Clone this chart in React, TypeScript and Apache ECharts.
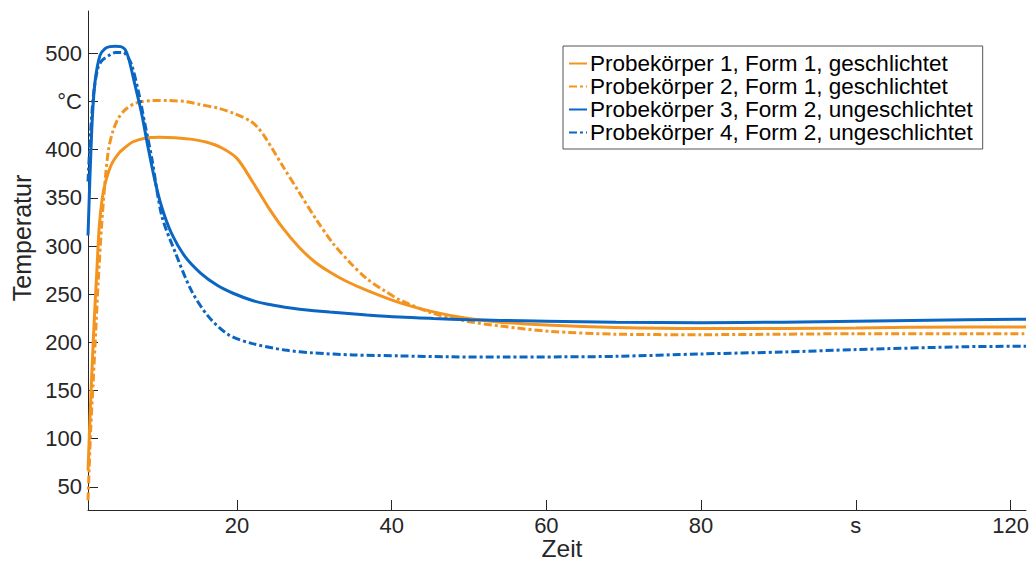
import React, { useEffect, useRef } from "react";
import * as echarts from "echarts";

const FONT = '"Liberation Sans", Arial, Helvetica, sans-serif';
const ORANGE = "#F39420";
const BLUE = "#0A66C2";
const AXIS = "#262626";

const seriesNames = [
  "Probekörper 1, Form 1, geschlichtet",
  "Probekörper 2, Form 1, geschlichtet",
  "Probekörper 3, Form 2, ungeschlichtet",
  "Probekörper 4, Form 2, ungeschlichtet",
];

// Probekörper 1 (orange, solid)
const p1Time = [0.75, 1.2, 1.6, 1.9, 2.2, 2.6, 3.0, 3.8, 4.8, 5.5, 6.5, 8.1, 10, 12, 14, 16, 18, 20, 22, 24, 26, 28, 30, 32, 34, 36.8, 41.1, 45.4, 49.7, 54, 60, 69, 80, 90.6, 100, 114.3, 122];
const p1Temp = [67, 160, 230, 275, 320, 350, 366, 385, 397, 402, 408, 412, 413, 412.5, 411, 408, 402, 391, 367, 341, 318, 299, 284, 273, 264, 254, 241, 231.7, 225, 221, 218, 215.5, 214.5, 214.5, 215, 216, 216];

// Probekörper 2 (orange, dash-dot)
const p2Time = [0.75, 1.1, 1.43, 1.8, 2.08, 2.5, 2.9, 3.4, 4.0, 4.7, 5.5, 6.8, 9, 11, 13.4, 15.2, 17.6, 19.5, 21.7, 22.7, 23.8, 26, 28.1, 30.3, 32.4, 34.6, 36.8, 39, 41.1, 45.4, 49.7, 54, 60.4, 69, 80, 90.6, 100, 114.3, 122];
const p2Temp = [36, 110, 161, 220, 265, 320, 362, 400, 420, 433, 441, 448, 451, 451, 450, 447, 443, 438, 430, 423, 411, 382, 355, 327, 303, 283, 266, 254, 244, 230, 222, 217, 211.5, 208.5, 208, 208.5, 209, 209, 209];

// Probekörper 3 (blue, solid)
const p3Time = [0.75, 1.23, 1.65, 2.3, 2.95, 3.6, 4.25, 5.0, 5.55, 6.0, 6.8, 7.7, 8.5, 9.4, 10.3, 11.5, 13.3, 15.3, 17.5, 19.5, 22, 24, 26.2, 28.1, 32, 36.8, 41, 45.4, 50, 54, 60, 69, 80, 90.6, 100, 114.3, 122];
const p3Temp = [311, 420, 470, 498, 505, 507, 507.5, 507, 504, 495, 468, 437, 403, 368, 340, 314, 289, 272, 259, 251, 243.5, 239.5, 236.5, 234.5, 231.5, 228.5, 226.3, 224.8, 223.5, 222.8, 222, 220.8, 220.5, 221, 222, 223.5, 224];

// Probekörper 4 (blue, dash-dot)
const p4Time = [0.75, 1.1, 1.5, 2.0, 2.5, 3.5, 4.3, 5.3, 5.9, 6.4, 7.25, 8.1, 9.0, 10.3, 12, 14.1, 16.3, 18.9, 21.9, 26.2, 30, 35, 41, 47.5, 55, 62, 69, 80, 90.6, 100, 114.3, 122];
const p4Temp = [367, 420, 460, 484, 492, 498, 501, 501, 496, 488, 461, 427, 391, 331, 294, 254, 227, 208, 199, 192, 189, 187, 186, 185, 184.8, 185, 185.5, 188, 190, 192.5, 195.5, 196];

const xTickValues = [20, 40, 60, 80, 100, 120];
const xTickLabels = ["20", "40", "60", "80", "s", "120"];
const yTickValues = [50, 100, 150, 200, 250, 300, 350, 400, 450, 500];
const yTickLabels = ["50", "100", "150", "200", "250", "300", "350", "400", "°C", "500"];

const X_MIN = 0.75;
const X_MAX = 122;
const Y_MIN = 26;
const Y_MAX = 544;

const zip = (t: number[], v: number[]) => t.map((x, i) => [x, v[i]]);

const DASHDOT = [8, 3, 3, 3];

export default function App() {
  const ref = useRef<HTMLDivElement>(null);
  useEffect(() => {
    if (!ref.current) return;
    const chart = echarts.init(ref.current, undefined, { renderer: "svg" });
    const mk = (name: string, data: number[][], color: string, dash: any) => ({
      name,
      type: "line",
      data,
      showSymbol: false,
      symbol: "none",
      smooth: 0.3,
      clip: true,
      lineStyle: { color, width: 3, type: dash },
      itemStyle: { color },
    });
    chart.setOption({
      animation: false,
      backgroundColor: "#ffffff",
      textStyle: { fontFamily: FONT },
      grid: {
        left: 88,
        right: 7,
        top: 11,
        bottom: 51,
        containLabel: false,
        outerBoundsMode: "none",
      },
      legend: {
        orient: "vertical",
        left: 563,
        top: 46,
        padding: [6, 10, 5, 5],
        itemGap: 0,
        itemWidth: 18,
        itemHeight: 14,
        borderColor: "#555555",
        borderWidth: 1,
        backgroundColor: "#ffffff",
        itemStyle: { opacity: 0 },
        textStyle: { fontFamily: FONT, fontSize: 22.5, color: "#000000", lineHeight: 20, padding: [0, 0, 0, -2] },
        data: seriesNames,
      },
      xAxis: {
        type: "value",
        min: X_MIN,
        max: X_MAX,
        splitLine: { show: false },
        axisLine: { show: true, lineStyle: { color: AXIS, width: 1 } },
        axisTick: {
          show: true,
          inside: true,
          length: 10,
          customValues: xTickValues,
          lineStyle: { color: AXIS },
        },
        axisLabel: {
          customValues: xTickValues,
          margin: 4,
          fontSize: 22,
          color: AXIS,
          fontFamily: FONT,
          formatter: (v: number) => {
            const i = xTickValues.indexOf(Math.round(v));
            return i >= 0 ? xTickLabels[i] : "";
          },
        },
      },
      yAxis: {
        type: "value",
        min: Y_MIN,
        max: Y_MAX,
        splitLine: { show: false },
        axisLine: { show: true, lineStyle: { color: AXIS, width: 1 } },
        axisTick: {
          show: true,
          inside: true,
          length: 10,
          customValues: yTickValues,
          lineStyle: { color: AXIS },
        },
        axisLabel: {
          customValues: yTickValues,
          margin: 6,
          fontSize: 22,
          color: AXIS,
          fontFamily: FONT,
          formatter: (v: number) => {
            const i = yTickValues.indexOf(Math.round(v));
            return i >= 0 ? yTickLabels[i] : "";
          },
        },
      },
      graphic: [
        {
          type: "text",
          x: 22,
          y: 238,
          rotation: Math.PI / 2,
          style: {
            text: "Temperatur",
            fontSize: 25,
            fontFamily: FONT,
            fill: AXIS,
            align: "center",
            verticalAlign: "middle",
          },
        },
        {
          type: "text",
          x: 562,
          y: 548,
          style: {
            text: "Zeit",
            fontSize: 24.5,
            fontFamily: FONT,
            fill: AXIS,
            align: "center",
            verticalAlign: "middle",
          },
        },
      ],
      series: [
        mk(seriesNames[0], zip(p1Time, p1Temp), ORANGE, "solid"),
        mk(seriesNames[1], zip(p2Time, p2Temp), ORANGE, DASHDOT),
        mk(seriesNames[2], zip(p3Time, p3Temp), BLUE, "solid"),
        mk(seriesNames[3], zip(p4Time, p4Temp), BLUE, DASHDOT),
      ],
    });
    return () => chart.dispose();
  }, []);
  return (
    <div
      ref={ref}
      style={{ position: "absolute", left: 0, top: 0, width: 1033, height: 561 }}
    />
  );
}
